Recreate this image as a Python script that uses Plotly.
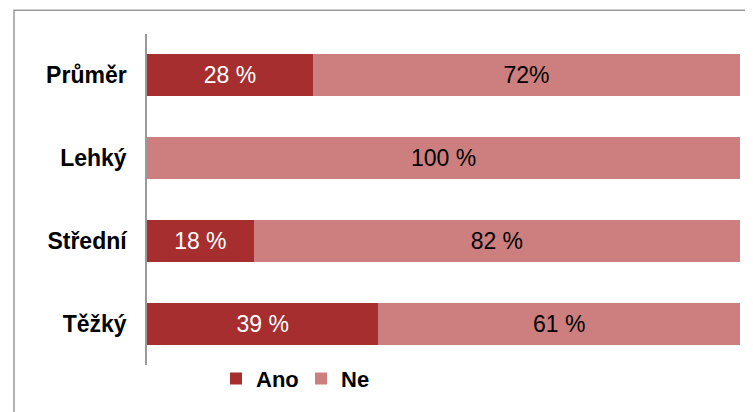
import plotly.graph_objects as go

categories = ["Průměr", "Lehký", "Střední", "Těžký"]
ano = [28, 0, 18, 39]
ne = [72, 100, 82, 61]
ano_labels = ["28 %", "", "18 %", "39 %"]
ne_labels = ["72%", "100 %", "82 %", "61 %"]

FONT = "Liberation Sans, Arial, sans-serif"

fig = go.Figure()
fig.add_trace(go.Bar(
    y=categories, x=ano, name="Ano", orientation="h",
    marker=dict(color="#A62E2E", line=dict(width=0)),
    text=ano_labels, textposition="inside", insidetextanchor="middle",
    textfont=dict(color="white", size=23, family=FONT),
    hoverinfo="skip",
))
fig.add_trace(go.Bar(
    y=categories, x=ne, name="Ne", orientation="h",
    marker=dict(color="#CC7F7E", line=dict(width=0)),
    text=ne_labels, textposition="inside", insidetextanchor="middle",
    textfont=dict(color="black", size=23, family=FONT),
    hoverinfo="skip",
))

# page body has an 8px margin, so the figure is drawn 8px smaller and shifted
W, H = 745, 404
L, R, T, B = 139, 13, 26, 42
pw = W - L - R
ph = H - T - B
base = T + ph

fig.update_layout(
    width=W, height=H,
    margin=dict(l=L, r=R, t=T, b=B, pad=0),
    barmode="stack",
    bargap=0.49,
    plot_bgcolor="white", paper_bgcolor="white",
    font=dict(family=FONT, size=22, color="black"),
    uniformtext=dict(minsize=22, mode="show"),
    xaxis=dict(range=[0, 100], visible=False, fixedrange=True),
    yaxis=dict(
        categoryorder="array", categoryarray=categories, autorange="reversed",
        showline=True, linecolor="#9a9a9a", linewidth=1.5,
        ticks="", showgrid=False, zeroline=False,
        tickfont=dict(size=23, family=FONT, color="black", weight="bold"),
        ticklabelstandoff=14,
    ),
    legend=dict(
        orientation="h", traceorder="normal",
        x=(208 - L) / pw, xanchor="left",
        y=-(376 - base) / ph, yanchor="middle",
        font=dict(size=22, family=FONT, weight="bold"),
        itemwidth=30, entrywidth=40, bgcolor="rgba(0,0,0,0)",
    ),
    shapes=[dict(
        type="rect", xref="paper", yref="paper",
        x0=(6 - L) / pw, x1=(780 - L) / pw,
        y0=-(440 - base) / ph, y1=(base - 2) / ph,
        line=dict(color="#9a9a9a", width=1.5), fillcolor="rgba(0,0,0,0)", layer="below",
    )],
)

fig.write_html("out.html")
